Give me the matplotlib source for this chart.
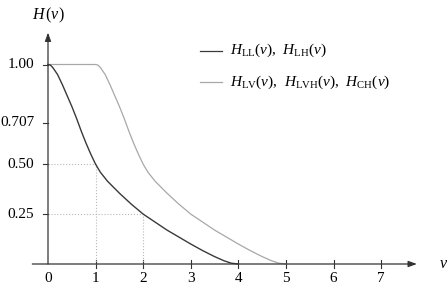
import matplotlib
matplotlib.use("Agg")
import matplotlib.pyplot as plt

# ── Data ──────────────────────────────────────────────────────────────────────

# H_LL / H_LH (dark curve)
v_dark = [0, 0.05, 0.1, 0.2, 0.3, 0.4, 0.5, 0.6, 0.7, 0.8, 0.9, 1.0,
          1.1, 1.25, 1.5, 1.75, 2.0, 2.25, 2.5, 2.75, 3.0, 3.25, 3.5, 3.7, 3.85, 4.0]
h_dark = [1.0, 0.997, 0.985, 0.95, 0.90, 0.845, 0.79, 0.73, 0.665, 0.605, 0.55, 0.5,
          0.46, 0.415, 0.355, 0.30, 0.25, 0.21, 0.17, 0.135, 0.10, 0.067, 0.037, 0.016, 0.004, 0.0]

# H_LV / H_LVH / H_CH (light curve)
v_light = [0, 1.0, 1.05, 1.1, 1.2, 1.3, 1.4, 1.5, 1.6, 1.7, 1.8, 1.9, 2.0,
           2.1, 2.25, 2.5, 2.75, 3.0, 3.25, 3.5, 3.75, 4.0, 4.25, 4.5, 4.7, 4.85, 5.0]
h_light = [1.0, 1.0, 0.997, 0.985, 0.95, 0.90, 0.845, 0.79, 0.73, 0.665, 0.605, 0.55, 0.5,
           0.46, 0.415, 0.355, 0.30, 0.25, 0.21, 0.17, 0.135, 0.10, 0.067, 0.037, 0.016, 0.004, 0.0]

x_ticks = [0, 1, 2, 3, 4, 5, 6, 7]
y_ticks = [0.25, 0.50, 0.707, 1.00]
y_tick_labels = ["0.25", "0.50", "0.707", "1.00"]

legend_labels = [r"$H_{\mathrm{LL}}(v)$,  $H_{\mathrm{LH}}(v)$",
                 r"$H_{\mathrm{LV}}(v)$,  $H_{\mathrm{LVH}}(v)$,  $H_{\mathrm{CH}}(v)$"]

DARK = "#3a3a3a"
LIGHT = "#a8a8a8"
GUIDE = "#b8b8b8"
AXIS = "#333333"

plt.rcParams.update({
    "font.family": "serif",
    "font.serif": ["Liberation Serif", "DejaVu Serif"],
    "mathtext.fontset": "custom",
    "mathtext.rm": "Liberation Serif",
    "mathtext.it": "Liberation Serif:italic",
})

fig = plt.figure(figsize=(4.47, 2.92), dpi=100)
ax = fig.add_axes([0, 0, 1, 1])
ax.set_xlim(-48 / 47.6, (447 - 48) / 47.6)
ax.set_ylim(-28 / 199.5, (292 - 28) / 199.5)
ax.axis("off")

# axes with arrows
arrow = dict(arrowstyle="-|>,head_length=0.5,head_width=0.18",
             color=AXIS, lw=0.9, shrinkA=0, shrinkB=0)
ax.annotate("", xy=(7.75, 0), xytext=(-0.33, 0), arrowprops=arrow)
ax.annotate("", xy=(0, 1.16), xytext=(0, 0), arrowprops=arrow)

# ticks
for xt in x_ticks[1:]:
    ax.plot([xt, xt], [-0.018, 0.018], color=AXIS, lw=0.8)
for xt in x_ticks:
    ax.text(xt, -0.075, str(xt), ha="center", va="center", fontsize=11)
for yt, lab in zip(y_ticks, y_tick_labels):
    ax.plot([-0.1, 0], [yt, yt], color=AXIS, lw=0.8)
    ax.text(-0.29, yt, lab, ha="right", va="center", fontsize=11)

ax.text(0, 1.245, r"$H\,(v)$", ha="center", va="center", fontsize=11.5)
ax.text(8.3, 0.0, r"$v$", ha="center", va="center", fontsize=11.5)

# guide lines
ax.plot([0, 1, 1], [0.5, 0.5, 0], color=GUIDE, lw=0.8, ls=":")
ax.plot([0, 2, 2], [0.25, 0.25, 0], color=GUIDE, lw=0.8, ls=":")

# curves
ax.plot(v_light, h_light, color=LIGHT, lw=0.9)
ax.plot(v_dark, h_dark, color=DARK, lw=1.0)

# legend
for i, (lab, col) in enumerate(zip(legend_labels, [DARK, LIGHT])):
    yl = 1.07 - i * 0.16
    ax.plot([3.2, 3.65], [yl, yl], color=col, lw=0.9)
    ax.text(3.82, yl, lab, ha="left", va="center", fontsize=11)

fig.savefig("out.png", dpi=100)
